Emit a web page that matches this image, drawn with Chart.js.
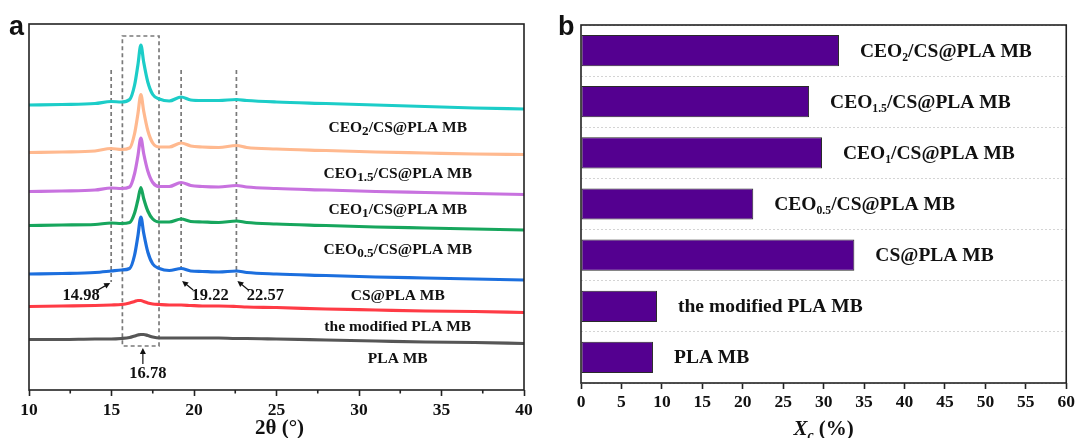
<!DOCTYPE html>
<html>
<head>
<meta charset="utf-8">
<script src="https://cdn.jsdelivr.net/npm/chart.js@4.4.1/dist/chart.umd.min.js"></script>
<style>
  body { margin: 0; background: #fff; width: 1078px; height: 438px; overflow: hidden; position: relative; }
  #wa { position: absolute; left: 0; top: 0; width: 545px; height: 438px; }
  #wb { position: absolute; left: 545px; top: 0; width: 533px; height: 438px; }
</style>
</head>
<body>
<div id="wa"><canvas id="xrdChart"></canvas></div>
<div id="wb"><canvas id="xcChart"></canvas></div>
<script>
// ========================
// DATA
// ========================
const samples = ['CEO_{2}/CS@PLA MB', 'CEO_{1.5}/CS@PLA MB', 'CEO_{1}/CS@PLA MB', 'CEO_{0.5}/CS@PLA MB', 'CS@PLA MB', 'the modified PLA MB', 'PLA MB'];
const lineColors = ['#1ccdc8', '#ffb98f', '#c872df', '#17a65d', '#1c6fde', '#ff3b45', '#565656'];

// 2θ sample points (°) and stacked intensities (a.u.)
const twoTheta = [10, 12, 14, 14.98, 15.6, 16.1, 16.4, 16.6, 16.78, 16.95, 17.2, 17.5, 17.9, 18.5, 19.22, 19.8, 20.5, 21.5, 22.57, 23.2, 25, 28, 31, 34, 37, 40];
const iCEO2   = [285, 285.5, 286.5, 288.5, 288, 290.5, 305, 325, 345, 328, 308, 295.5, 291, 289, 293, 290, 289.5, 289.5, 290.5, 289.5, 288, 286.5, 285, 283.5, 282, 281];
const iCEO15  = [237.5, 238, 239, 241.5, 240.5, 242, 256.5, 276, 295.5, 279, 259.5, 247, 243, 243, 247, 244, 243, 242.5, 244.5, 242.5, 241, 239.5, 238, 237, 236, 235.5];
const iCEO1   = [198.5, 199, 200, 202, 201.5, 203, 216.5, 234, 252, 236.5, 219, 207.5, 203.5, 203.5, 207.5, 204.5, 203.5, 203, 204.5, 203, 201.5, 200, 198.5, 197.5, 196.5, 195.5];
const iCEO05  = [164.5, 165, 165.5, 167, 166.5, 167.5, 177, 190, 202.5, 191.5, 179, 171, 168, 168, 171, 168.5, 168, 167.5, 169, 167.5, 166, 164.5, 163, 162, 161, 160];
const iCS     = [116, 116.5, 117.5, 119, 120, 121.5, 135, 154, 173, 157, 138, 126, 121.5, 119.5, 121.5, 119, 118.5, 118, 119, 117.5, 116, 114.5, 113, 112, 111, 110];
const iModPLA = [83.5, 84, 84.5, 85, 85.5, 87, 88.5, 89.5, 89.5, 88.5, 87, 86, 85.5, 85, 85, 84.5, 84, 84, 83.5, 83, 82.5, 81, 80, 79, 78.5, 77.5];
const iPLA    = [50.5, 50.5, 51, 51, 51.5, 52.5, 54, 55, 55.5, 55.5, 54.5, 53, 52, 52, 52, 52, 52, 52, 51.5, 51.5, 51, 50, 49, 48, 47.5, 46.5];
const patterns = [iCEO2, iCEO15, iCEO1, iCEO05, iCS, iModPLA, iPLA];

const peakMarks = [14.98, 19.22, 22.57];
const mainPeak = 16.78;
const minorTicksA = [12.5, 17.5, 22.5, 27.5, 32.5, 37.5];

// crystallinity Xc (%) for panel b
const xcValues = [31.9, 28.2, 29.8, 21.3, 33.8, 9.4, 8.9];

const SERIF = '"Liberation Serif", "Times New Roman", serif';
const INK = '#222';

// ========================
// HELPERS
// ========================
function parseRich(label) {
    const parts = [];
    const re = /_\{([^}]*)\}/g;
    let last = 0, m;
    while ((m = re.exec(label)) !== null) {
        if (m.index > last) parts.push({ t: label.slice(last, m.index), sub: false });
        parts.push({ t: m[1], sub: true });
        last = re.lastIndex;
    }
    if (last < label.length) parts.push({ t: label.slice(last), sub: false });
    return parts;
}

function drawRich(ctx, label, x, y, size, subScale, subDrop, align) {
    const parts = parseRich(label);
    const fontOf = p => `bold ${p.sub ? size * subScale : size}px ${SERIF}`;
    let w = 0;
    parts.forEach(p => { ctx.font = fontOf(p); w += ctx.measureText(p.t).width; });
    let cx = align === 'center' ? x - w / 2 : x;
    ctx.textAlign = 'left';
    ctx.textBaseline = 'middle';
    parts.forEach(p => {
        ctx.font = fontOf(p);
        ctx.fillText(p.t, cx, p.sub ? y + subDrop : y);
        cx += ctx.measureText(p.t).width;
    });
}

function arrow(ctx, x1, y1, x2, y2) {
    const a = Math.atan2(y2 - y1, x2 - x1), h = 6;
    ctx.beginPath();
    ctx.moveTo(x1, y1);
    ctx.lineTo(x2 - Math.cos(a) * h * 0.8, y2 - Math.sin(a) * h * 0.8);
    ctx.stroke();
    ctx.beginPath();
    ctx.moveTo(x2, y2);
    ctx.lineTo(x2 - h * Math.cos(a) + 3 * Math.sin(a), y2 - h * Math.sin(a) - 3 * Math.cos(a));
    ctx.lineTo(x2 - h * Math.cos(a) - 3 * Math.sin(a), y2 - h * Math.sin(a) + 3 * Math.cos(a));
    ctx.closePath();
    ctx.fill();
}

// ========================
// PANEL A : XRD
// ========================
const labelRowsA = [262, 216.5, 180, 140, 94, 63.5, 31];

const xrdDecor = {
    id: 'xrdDecor',
    beforeDatasetsDraw(chart) {
        const { ctx, scales: { x } } = chart;
        ctx.save();
        ctx.strokeStyle = '#7a7a7a';
        ctx.lineWidth = 1.7;
        ctx.setLineDash([4, 3]);
        peakMarks.forEach((m, i) => {
            const px = x.getPixelForValue(m);
            ctx.beginPath();
            ctx.moveTo(px, 70);
            ctx.lineTo(px, i === 0 ? 282 : 279);
            ctx.stroke();
        });
        const l = x.getPixelForValue(mainPeak - 1.12);
        const r = x.getPixelForValue(mainPeak + 1.1);
        ctx.strokeRect(l, 36, r - l, 310);
        ctx.restore();
    },
    afterDraw(chart) {
        const { ctx, chartArea: ca, scales: { x, y } } = chart;
        ctx.save();
        // frame
        ctx.strokeStyle = INK;
        ctx.lineWidth = 1.6;
        ctx.strokeRect(ca.left, ca.top, ca.right - ca.left, ca.bottom - ca.top);
        // minor ticks
        minorTicksA.forEach(v => {
            const px = x.getPixelForValue(v);
            ctx.beginPath();
            ctx.moveTo(px, ca.bottom);
            ctx.lineTo(px, ca.bottom + 3.5);
            ctx.stroke();
        });
        // sample labels
        ctx.fillStyle = '#111';
        samples.forEach((s, i) => {
            drawRich(ctx, s, x.getPixelForValue(32.35), y.getPixelForValue(labelRowsA[i]), 15.5, 0.85, 4, 'center');
        });
        // peak annotations
        ctx.strokeStyle = '#111';
        ctx.lineWidth = 1.2;
        ctx.font = `bold 16.5px ${SERIF}`;
        ctx.textAlign = 'center';
        ctx.textBaseline = 'middle';
        const p0 = x.getPixelForValue(peakMarks[0]);
        arrow(ctx, p0 - 15, 291, p0 - 1, 283);
        ctx.fillText(peakMarks[0].toFixed(2), p0 - 30, 296);
        [1, 2].forEach(i => {
            const p = x.getPixelForValue(peakMarks[i]);
            arrow(ctx, p + 12, 290, p + 1, 281);
            ctx.fillText(peakMarks[i].toFixed(2), p + 29, 296);
        });
        const pm = x.getPixelForValue(mainPeak) + 2;
        arrow(ctx, pm, 364, pm, 348);
        ctx.fillText(mainPeak.toFixed(2), pm + 5, 374);
        // axis title
        ctx.font = `bold 21px ${SERIF}`;
        ctx.textBaseline = 'alphabetic';
        ctx.fillText('2\u03B8 (\u00B0)', (ca.left + ca.right) / 2 + 3, 434);
        // panel letter
        ctx.font = 'bold 27px "Liberation Sans", Arial, sans-serif';
        ctx.textAlign = 'left';
        ctx.fillText('a', 9, 35);
        ctx.restore();
    }
};

new Chart(document.getElementById('xrdChart'), {
    type: 'line',
    data: {
        datasets: patterns.map((arr, k) => ({
            label: samples[k],
            data: twoTheta.map((t, i) => ({ x: t, y: arr[i] })),
            borderColor: lineColors[k],
            borderWidth: 3.2,
            pointRadius: 0,
            cubicInterpolationMode: 'monotone',
            fill: false
        }))
    },
    options: {
        responsive: true,
        maintainAspectRatio: false,
        animation: false,
        layout: { padding: { left: 29, right: 21, top: 24, bottom: 18 } },
        plugins: { legend: { display: false }, tooltip: { enabled: false } },
        scales: {
            x: {
                type: 'linear',
                min: 10,
                max: 40,
                afterFit: s => { s.height = 30; },
                ticks: { stepSize: 5, color: '#111', padding: 4, font: { family: SERIF, size: 17.5, weight: 'bold' } },
                grid: { drawOnChartArea: false, tickLength: 6, tickColor: INK, tickWidth: 1.6 },
                border: { display: false }
            },
            y: { display: false, min: 0, max: 366 }
        }
    },
    plugins: [xrdDecor]
});

// ========================
// PANEL B : Xc BARS
// ========================
const xcDecor = {
    id: 'xcDecor',
    afterDatasetsDraw(chart) {
        const { ctx } = chart;
        const bars = chart.getDatasetMeta(0).data;
        ctx.save();
        ctx.fillStyle = '#111';
        bars.forEach((b, i) => {
            drawRich(ctx, samples[i], b.x + 21, b.y + 1, 19.5, 0.6, 6, 'left');
        });
        ctx.restore();
    },
    afterDraw(chart) {
        const { ctx, chartArea: ca } = chart;
        ctx.save();
        ctx.strokeStyle = INK;
        ctx.lineWidth = 1.6;
        ctx.strokeRect(ca.left, ca.top, ca.right - ca.left, ca.bottom - ca.top);
        // axis title  X_c (%)
        const cx = (ca.left + ca.right) / 2;
        ctx.fillStyle = '#111';
        ctx.textBaseline = 'alphabetic';
        ctx.textAlign = 'left';
        const parts = [
            { t: 'X', f: `italic bold 21px ${SERIF}`, dy: 0 },
            { t: 'c', f: `italic bold 14px ${SERIF}`, dy: 5 },
            { t: ' (%)', f: `bold 21px ${SERIF}`, dy: 0 }
        ];
        let w = 0;
        parts.forEach(p => { ctx.font = p.f; w += ctx.measureText(p.t).width; });
        let px = cx - w / 2;
        parts.forEach(p => {
            ctx.font = p.f;
            ctx.fillText(p.t, px, 435 + p.dy);
            px += ctx.measureText(p.t).width;
        });
        ctx.font = 'bold 27px "Liberation Sans", Arial, sans-serif';
        ctx.fillText('b', 13, 35);
        ctx.restore();
    }
};

new Chart(document.getElementById('xcChart'), {
    type: 'bar',
    data: {
        labels: samples,
        datasets: [{
            data: xcValues,
            backgroundColor: '#540090',
            borderColor: '#2a2a2a',
            borderWidth: 1,
            borderSkipped: false,
            categoryPercentage: 1,
            barPercentage: 0.61
        }]
    },
    options: {
        indexAxis: 'y',
        responsive: true,
        maintainAspectRatio: false,
        animation: false,
        layout: { padding: { left: 36, right: 10, top: 25, bottom: 25 } },
        plugins: { legend: { display: false }, tooltip: { enabled: false } },
        scales: {
            x: {
                min: 0,
                max: 60,
                afterFit: s => { s.height = 30; },
                ticks: { stepSize: 5, color: '#111', padding: 3, font: { family: SERIF, size: 17.5, weight: 'bold' } },
                grid: { drawOnChartArea: false, tickLength: 6, tickColor: INK, tickWidth: 1.6 },
                border: { display: false }
            },
            y: {
                afterFit: s => { s.width = 0; },
                ticks: { display: false },
                grid: { color: '#d4d4d4', lineWidth: 1, drawTicks: false, offset: true },
                border: { display: false, dash: [2, 2] }
            }
        }
    },
    plugins: [xcDecor]
});
</script>
</body>
</html>
